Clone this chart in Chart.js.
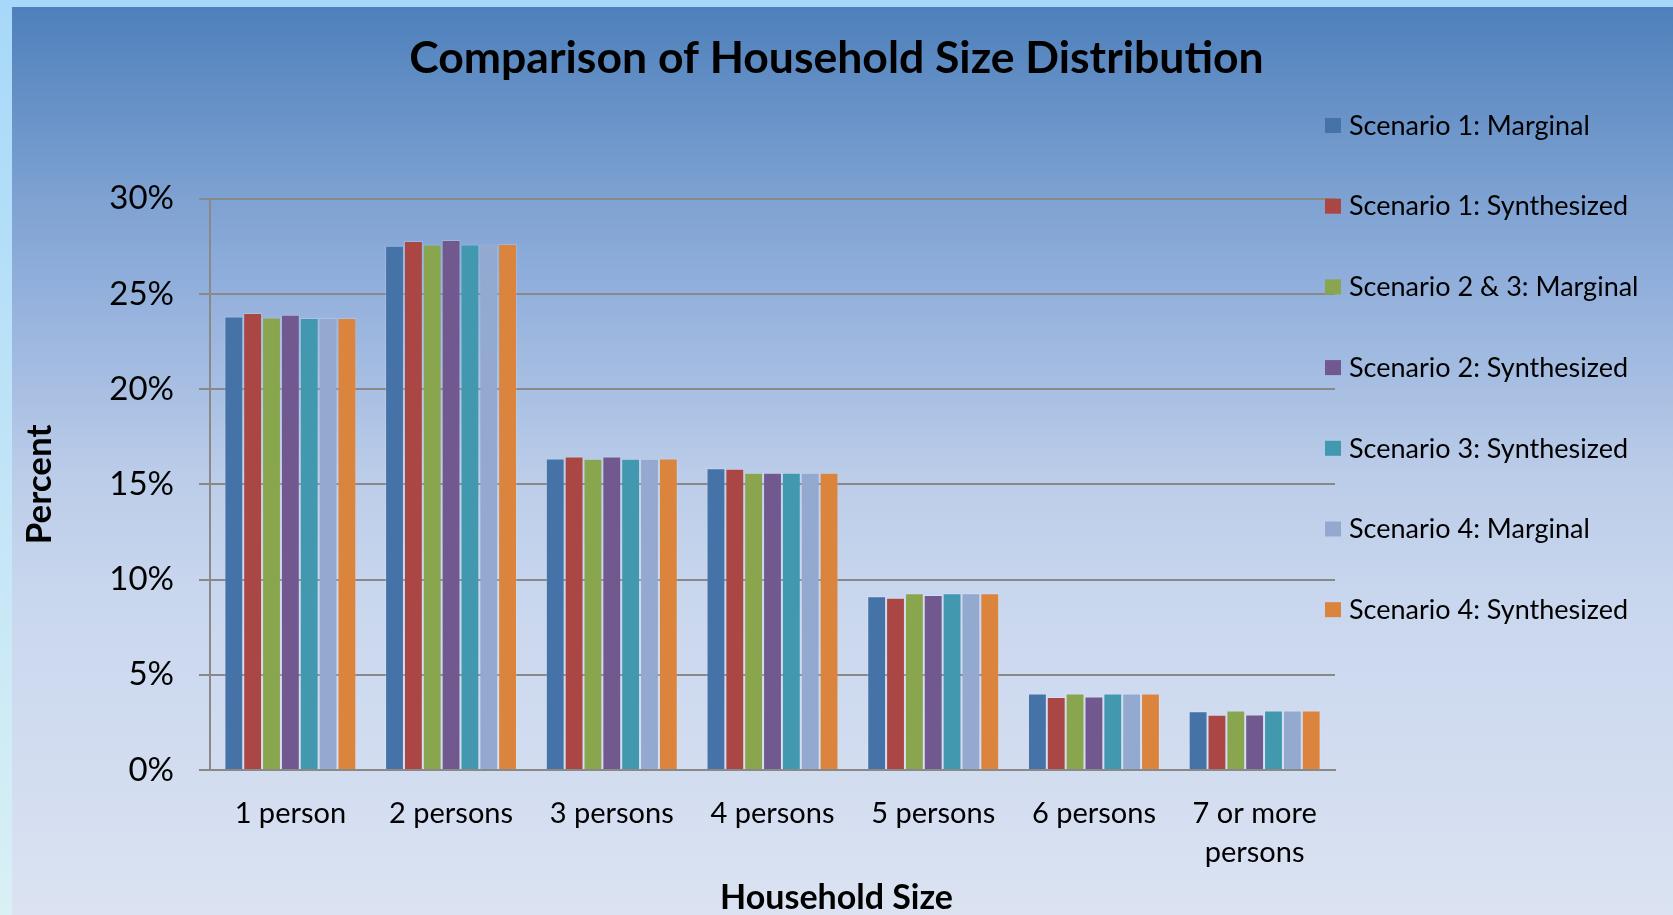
<!DOCTYPE html>
<html>
<head>
<meta charset="utf-8">
<script src="https://cdn.jsdelivr.net/npm/chart.js@4.4.1/dist/chart.umd.min.js"></script>
<style>
  html, body { margin: 0; padding: 0; background: #a7d8f9; }
  #wrap { width: 1673px; height: 915px; }
</style>
</head>
<body>
<div id="wrap"><canvas id="c" width="1673" height="915"></canvas></div>
<script>
// ---- data (percent) ----
const categories = ['1 person', '2 persons', '3 persons', '4 persons', '5 persons', '6 persons', ['7 or more', 'persons']];
const seriesNames = [
  'Scenario 1: Marginal',
  'Scenario 1: Synthesized',
  'Scenario 2 & 3: Marginal',
  'Scenario 2: Synthesized',
  'Scenario 3: Synthesized',
  'Scenario 4: Marginal',
  'Scenario 4: Synthesized'
];
const s1Marginal    = [23.81, 27.53, 16.36, 15.85, 9.12, 4.02, 3.09];
const s1Synthesized = [24.00, 27.78, 16.46, 15.82, 9.04, 3.83, 2.90];
const s23Marginal   = [23.76, 27.60, 16.35, 15.61, 9.28, 4.02, 3.13];
const s2Synthesized = [23.90, 27.83, 16.46, 15.61, 9.19, 3.86, 2.92];
const s3Synthesized = [23.74, 27.60, 16.35, 15.61, 9.28, 4.02, 3.13];
const s4Marginal    = [23.74, 27.60, 16.35, 15.61, 9.28, 4.02, 3.13];
const s4Synthesized = [23.74, 27.62, 16.36, 15.61, 9.28, 4.02, 3.13];
const yTicks = [0, 5, 10, 15, 20, 25, 30];
const chartTitle = 'Comparison of Household Size Distribution';
const xTitle = 'Household Size';
const yTitle = 'Percent';

const colors = ['#4572A7', '#AA4643', '#89A54E', '#71588F', '#4198AF', '#93A9CF', '#DB843D'];
const seriesValues = [s1Marginal, s1Synthesized, s23Marginal, s2Synthesized, s3Synthesized, s4Marginal, s4Synthesized];

const FONT = 'Lato';
const GRID = '#898989';

const backgroundPlugin = {
  id: 'bg',
  beforeDraw(chart) {
    const ctx = chart.ctx, W = chart.width, H = chart.height;
    ctx.save();
    const fg = ctx.createLinearGradient(0, 0, 0, H);
    fg.addColorStop(0, '#a7d8f9');
    fg.addColorStop(1, '#d9f0f5');
    ctx.fillStyle = fg;
    ctx.fillRect(0, 0, W, H);
    const top = 7, left = 12;
    const g = ctx.createLinearGradient(0, top, 0, H);
    g.addColorStop(0, '#4e80bb');
    g.addColorStop(0.212, '#7ea2d2');
    g.addColorStop(0.30, '#90aedb');
    g.addColorStop(0.52, '#bccde9');
    g.addColorStop(0.653, '#c9d7ee');
    g.addColorStop(0.851, '#d3ddf0');
    g.addColorStop(1, '#dbe3f2');
    ctx.fillStyle = g;
    ctx.fillRect(left, top, W - left, H - top);
    ctx.restore();
  }
};

const sideLegend = {
  id: 'sideLegend',
  afterDraw(chart) {
    const ctx = chart.ctx;
    const x0 = chart.chartArea.right - 10;
    ctx.save();
    ctx.font = '27px ' + FONT;
    ctx.textBaseline = 'middle';
    ctx.textAlign = 'left';
    chart.data.datasets.forEach((ds, i) => {
      const cy = 126 + i * 80.7;
      ctx.fillStyle = ds.backgroundColor;
      ctx.fillRect(x0, cy - 8, 16, 15);
      ctx.fillStyle = '#000';
      ctx.fillText(ds.label, x0 + 24, cy);
    });
    ctx.restore();
  }
};

Chart.defaults.color = '#000';
Chart.defaults.font.family = FONT;

new Chart(document.getElementById('c'), {
  type: 'bar',
  data: {
    labels: categories,
    datasets: seriesNames.map((name, i) => ({
      label: name,
      data: seriesValues[i],
      backgroundColor: colors[i],
      borderColor: 'rgba(255,255,255,0.18)',
      borderWidth: 1,
      categoryPercentage: 0.821,
      barPercentage: 1.0
    }))
  },
  options: {
    responsive: false,
    devicePixelRatio: 1,
    animation: false,
    layout: { padding: { top: 7, left: 0, right: 0, bottom: 0 } },
    plugins: {
      legend: { display: false },
      tooltip: { enabled: false },
      title: {
        display: true,
        text: chartTitle,
        color: '#000',
        font: { family: FONT, size: 44.5, weight: 'bold', lineHeight: 1.2 },
        padding: { top: 25, bottom: 113.3 }
      },
      subtitle: {
        display: true,
        position: 'bottom',
        text: xTitle,
        color: '#000',
        font: { family: FONT, size: 34, weight: 'bold', lineHeight: 1.0 },
        padding: { top: 0, bottom: 0 }
      }
    },
    scales: {
      x: {
        grid: { display: false },
        border: { display: true, color: GRID, width: 2 },
        ticks: {
          font: { family: FONT, size: 29, lineHeight: 1.33 },
          color: '#000',
          padding: 16.5,
          maxRotation: 0,
          autoSkip: false
        },
        afterFit(s) { s.height = 111; }
      },
      y: {
        min: 0,
        max: 30,
        afterBuildTicks(s) { s.ticks = yTicks.map(v => ({ value: v })); },
        grid: { color: GRID, lineWidth: 2, tickLength: 11, drawTicks: true },
        border: { display: true, color: GRID, width: 2 },
        ticks: {
          font: { family: FONT, size: 33 },
          color: '#000',
          padding: 25,
          callback: v => v + '%'
        },
        title: {
          display: true,
          text: yTitle,
          color: '#000',
          font: { family: FONT, size: 35, weight: 'bold', lineHeight: 1.2 },
          padding: { top: 19, bottom: 0 }
        },
        afterFit(s) { s.width = 210; }
      },
      spacer: {
        type: 'linear',
        position: 'right',
        display: true,
        grid: { display: false, drawTicks: false },
        border: { display: false },
        ticks: { display: false },
        afterFit(s) { s.width = 338; }
      }
    }
  },
  plugins: [backgroundPlugin, sideLegend]
});
</script>
</body>
</html>
